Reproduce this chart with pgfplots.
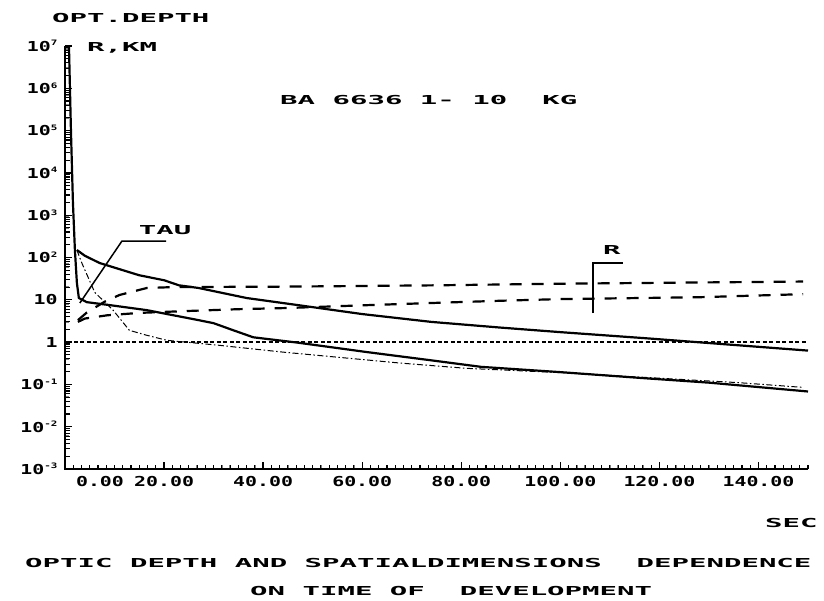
\documentclass[border=0pt]{standalone}
\usepackage{fontspec}
\usepackage{pgfplots}
\pgfplotsset{compat=1.18}
\newfontfamily\pix{DejaVu Sans Mono}[FakeStretch=2.35]
\newfontfamily\tk{DejaVu Sans Mono}[FakeStretch=1.45]
\newcommand\pixfont{\pix\bfseries\fontsize{12.35}{14}\selectfont}
\newcommand\tkfont{\tk\bfseries\fontsize{13.7}{15}\selectfont}
\newcommand\sps[1]{\raisebox{5.5pt}{\tk\bfseries\fontsize{7.5}{8}\selectfont #1}}
\begin{document}
\begin{tikzpicture}
\path (0,0) rectangle (824pt,600pt);
\begin{axis}[
  at={(65pt,131pt)}, anchor=south west,
  scale only axis, width=743pt, height=423pt,
  xmin=0, xmax=150, ymode=log, ymin=1e-3, ymax=1e7,
  separate axis lines,
  axis x line*=bottom, axis y line*=left,
  every outer x axis line/.append style={line width=1.8pt},
  every outer y axis line/.append style={line width=1.8pt},
  xtick={0,20,...,140},
  xticklabels={\hspace*{70pt}0.00,20.00,40.00,60.00,80.00,100.00,120.00,140.00},
  minor x tick num=11,
  ytick={1e-3,1e-2,1e-1,1,10,1e2,1e3,1e4,1e5,1e6,1e7},
  yticklabels={10\sps{-3},10\sps{-2},10\sps{-1},1,10,10\sps{2},10\sps{3},10\sps{4},10\sps{5},10\sps{6},10\sps{7}},
  xtick align=inside, ytick align=inside,
  major tick length=7pt, minor tick length=4.5pt,
  every tick/.append style={line width=1.3pt},
  tick label style={font=\tkfont},
  xticklabel style={yshift=-4pt},
  yticklabel style={xshift=-4pt},
]
% lower solid (TAU)
\addplot[black, line width=2.2pt] coordinates {
 (0.8,1e7) (1.2,1e5) (1.6,2e3) (2.0,150) (2.4,25) (2.8,11) (4.4,8.8) (9,7.5)
 (16.5,5.7) (27,3.3) (30,2.8) (34,1.9) (38,1.3) (47,0.97) (61,0.58) (74,0.37)
 (84,0.26) (100,0.195) (117,0.14) (130,0.11) (150,0.068)};
% upper solid (TAU)
\addplot[black, line width=2.2pt] coordinates {
 (2.4,150) (3,134) (4,110) (7,74) (11.7,50) (15,38) (20,29) (23,22) (27,19)
 (36.7,11) (47,7.5) (60,4.6) (74,3.0) (88,2.2) (100,1.72) (117,1.24) (130,0.95) (150,0.63)};
% thin dash-dot curve
\addplot[black, line width=1pt, dash pattern=on 6pt off 2.5pt on 1.5pt off 2.5pt] coordinates {
 (2.4,150) (3.4,74) (6,15) (9.7,5.7) (13,1.9) (16.5,1.45) (20.6,1.1) (30.7,0.85)
 (44,0.58) (67.6,0.32) (81,0.24) (100,0.19) (120,0.14) (136,0.11) (149,0.085)};
% horizontal line at 1
\addplot[black, line width=1.5pt, dash pattern=on 4pt off 2.5pt] coordinates {(0.5,1) (150,1)};
% upper dashed (R)
\addplot[black, line width=2.2pt, dash pattern=on 12pt off 10pt] coordinates {
 (2.6,3.3) (4.4,5) (8,9) (11,13) (16.5,19) (22,20) (45,20.5) (75,22) (100,24) (125,25.5) (149,27)};
% lower dashed (R)
\addplot[black, line width=2.2pt, dash pattern=on 12pt off 10pt] coordinates {
 (2.6,3.0) (4,3.6) (8.5,4.3) (15,4.9) (24,5.4) (35,6.0) (45,6.4) (60,7.4) (74,8.4)
 (88,9.5) (100,10.4) (128,11.5) (149,13.6)};
% annotations
\draw[black, line width=1.5pt] (axis cs:3,8.4) -- (axis cs:11.5,245) -- (axis cs:20.4,245);
\node[anchor=center, inner sep=0] at (axis cs:20.2,445) {\pixfont TAU};
\draw[black, line width=1.5pt] (axis cs:106.6,4.85) -- (axis cs:106.6,74) -- (axis cs:112.7,74);
\node[anchor=center, inner sep=0] at (axis cs:110.4,149) {\pixfont R};
\end{axis}
% axis frame and ticks drawn explicitly (plot area: 65pt..808pt, 131pt..554pt)
\draw[black, line width=2.4pt] (65pt,554pt) -- (65pt,131pt);
\draw[black, line width=2pt] (64pt,131pt) -- (808pt,131pt);
\foreach \i in {0,...,90} {
  \draw[black, line width=1.1pt] ({65pt+8.25556pt*\i},131pt) -- ++(0,4.5pt);
}
\foreach \i in {0,...,7} {
  \draw[black, line width=1.3pt] ({65pt+99.0667pt*\i},131pt) -- ++(0,7pt);
}
\foreach \e in {0,...,9} {
  \foreach \k in {2,...,9} {
    \draw[black, line width=1.1pt] (65pt,{131pt+42.3pt*(\e+ln(\k)/ln(10))}) -- ++(4.5pt,0);
  }
}
\foreach \e in {0,...,10} {
  \draw[black, line width=1.3pt] (65pt,{131pt+42.3pt*\e}) -- ++(7pt,0);
}
\node[anchor=base west, inner sep=0] at (52pt,577.5pt) {\pixfont OPT.DEPTH};
\node[anchor=base west, inner sep=0] at (87pt,548.5pt) {\pixfont R,KM};
\node[anchor=base west, inner sep=0] at (280pt,495.5pt) {\pixfont BA 6636 1-\ 10\ \ KG};
\node[anchor=base west, inner sep=0] at (765pt,72.5pt) {\pixfont SEC};
\node[anchor=base west, inner sep=0] at (25pt,32.5pt) {\pixfont OPTIC DEPTH AND SPATIALDIMENSIONS\ \ DEPENDENCE};
\node[anchor=base west, inner sep=0] at (250pt,4.5pt) {\pixfont ON TIME OF\ \ DEVELOPMENT};
\end{tikzpicture}
\end{document}
